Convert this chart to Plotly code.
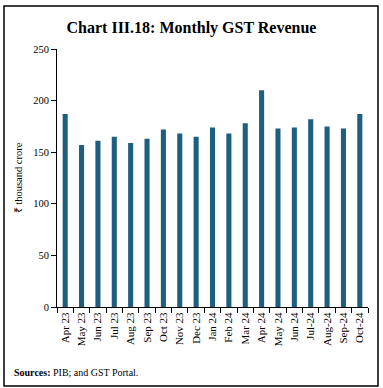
import plotly.graph_objects as go

months = ["Apr 23", "May 23", "Jun 23", "Jul 23", "Aug 23", "Sep 23", "Oct 23", "Nov 23",
          "Dec 23", "Jan 24", "Feb 24", "Mar 24", "Apr 24", "May 24", "Jun 24", "Jul-24",
          "Aug-24", "Sep-24", "Oct-24"]
gst_revenue = [187, 157, 161, 165, 159, 163, 172, 168, 165, 174, 168, 178, 210, 173, 174,
               182, 175, 173, 187]

FONT = "Liberation Serif"

fig = go.Figure(go.Bar(x=months, y=gst_revenue, marker=dict(color="#1d5f7f", line=dict(width=0))))

fig.update_layout(
    width=383, height=388,
    margin=dict(l=57, r=15, t=49, b=81),
    paper_bgcolor="white", plot_bgcolor="white",
    bargap=0.69,
    showlegend=False,
    font=dict(family=FONT, color="black", size=10),
    title=dict(text="<b>Chart III.18: Monthly GST Revenue</b>", x=0.5, xanchor="center",
               y=1 - 27 / 388, yanchor="middle", font=dict(family=FONT, size=16, color="black")),
    xaxis=dict(type="category", showline=True, linecolor="black", linewidth=1,
               ticks="outside", ticklen=5, tickcolor="black", tickson="boundaries",
               tickangle=-90, tickfont=dict(family=FONT, size=11), showgrid=False),
    yaxis=dict(range=[0, 250], dtick=50, showline=True, linecolor="black", linewidth=1,
               ticks="outside", ticklen=5, tickcolor="black", showgrid=False, zeroline=False,
               tickfont=dict(family=FONT, size=10.5),
               title=dict(text="₹ thousand crore", font=dict(family=FONT, size=10.5), standoff=8)),
)

fig.add_shape(type="rect", xref="paper", yref="paper",
              x0=(4 - 57) / 311, x1=(378 - 57) / 311,
              y0=(307 - 386) / 258, y1=(307 - 6) / 258,
              line=dict(color="black", width=1.5))

fig.add_annotation(text="<b>Sources:</b> PIB; and GST Portal.", xref="paper", yref="paper",
                   x=(12 - 57) / 311, y=(307 - 372) / 258, xanchor="left", yanchor="middle",
                   showarrow=False, font=dict(family=FONT, size=10, color="black"))

fig.write_html("out.html", config={"displayModeBar": False},
               post_script="document.body.style.margin='0';")
